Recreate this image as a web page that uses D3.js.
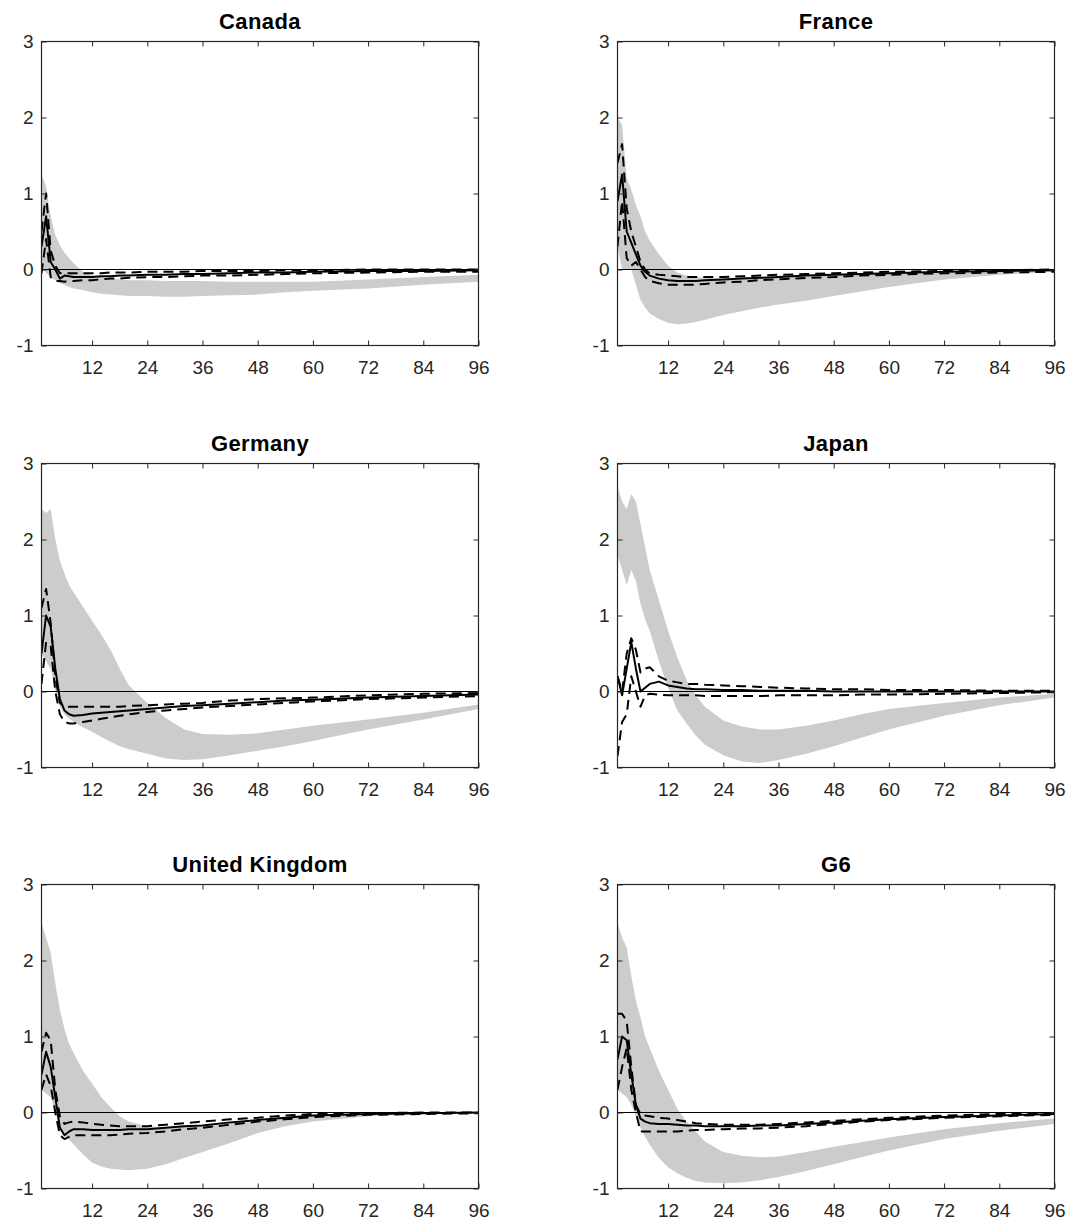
<!DOCTYPE html>
<html>
<head>
<meta charset="utf-8">
<script src="https://cdn.jsdelivr.net/npm/d3@7"></script>
<style>
  html, body { margin: 0; padding: 0; background: #fff; }
  svg { display: block; }
  text { font-family: "Liberation Sans", Arial, Helvetica, sans-serif; }
</style>
</head>
<body>
<svg id="chart" width="1076" height="1221"></svg>
<script>
// ---- data ----
const months = [1,2,3,4,5,6,7,8,10,12,14,16,18,20,24,28,32,36,42,48,54,60,72,84,96];
const xTicks = [12,24,36,48,60,72,84,96];
const yTicks = [-1,0,1,2,3];
const titles = ["Canada","France","Germany","Japan","United Kingdom","G6"];

const canadaBandHi = [1.25,1.1,0.7,0.45,0.32,0.22,0.15,0.08,-0.03,-0.08,-0.1,-0.12,-0.13,-0.14,-0.14,-0.15,-0.15,-0.15,-0.16,-0.16,-0.16,-0.16,-0.13,-0.1,-0.07];
const canadaBandLo = [0.05,-0.05,-0.1,-0.14,-0.18,-0.2,-0.23,-0.25,-0.27,-0.3,-0.32,-0.33,-0.34,-0.35,-0.35,-0.36,-0.36,-0.35,-0.34,-0.33,-0.3,-0.28,-0.25,-0.2,-0.16];
const canadaMid = [0.3,0.7,0.1,0.0,-0.12,-0.08,-0.09,-0.1,-0.1,-0.1,-0.09,-0.09,-0.08,-0.08,-0.07,-0.07,-0.06,-0.06,-0.05,-0.04,-0.04,-0.03,-0.02,-0.02,-0.01];
const canadaHi = [0.5,1.0,0.25,0.05,-0.05,-0.04,-0.05,-0.05,-0.05,-0.05,-0.05,-0.04,-0.04,-0.04,-0.03,-0.03,-0.03,-0.02,-0.02,-0.02,-0.01,-0.01,0.0,0.0,0.0];
const canadaLo = [-0.05,0.4,-0.1,-0.15,-0.15,-0.16,-0.15,-0.15,-0.14,-0.14,-0.13,-0.12,-0.12,-0.11,-0.1,-0.1,-0.09,-0.08,-0.08,-0.07,-0.06,-0.05,-0.04,-0.03,-0.03];

const franceBandHi = [2.0,1.9,1.2,1.05,0.85,0.7,0.5,0.38,0.2,0.05,-0.04,-0.08,-0.1,-0.11,-0.12,-0.12,-0.11,-0.1,-0.09,-0.08,-0.07,-0.05,-0.03,-0.02,-0.01];
const franceBandLo = [0.3,0.0,0.0,0.0,-0.2,-0.4,-0.5,-0.58,-0.65,-0.7,-0.72,-0.71,-0.69,-0.66,-0.6,-0.55,-0.5,-0.46,-0.41,-0.35,-0.29,-0.23,-0.13,-0.07,-0.03];
const franceMid = [0.9,1.25,0.5,0.35,0.2,0.05,-0.03,-0.08,-0.12,-0.14,-0.15,-0.15,-0.15,-0.14,-0.13,-0.12,-0.11,-0.1,-0.08,-0.07,-0.06,-0.05,-0.03,-0.02,-0.01];
const franceHi = [1.4,1.65,0.8,0.5,0.3,0.1,0.0,-0.05,-0.07,-0.08,-0.09,-0.1,-0.1,-0.1,-0.1,-0.09,-0.08,-0.07,-0.06,-0.05,-0.04,-0.03,-0.02,-0.01,0.0];
const franceLo = [0.3,0.9,0.15,0.05,0.1,0.0,-0.1,-0.15,-0.18,-0.2,-0.2,-0.2,-0.2,-0.19,-0.17,-0.16,-0.14,-0.13,-0.11,-0.1,-0.08,-0.07,-0.05,-0.04,-0.03];

const germanyBandHi = [2.4,2.35,2.4,2.0,1.72,1.55,1.4,1.3,1.12,0.93,0.75,0.55,0.3,0.08,-0.15,-0.35,-0.5,-0.56,-0.57,-0.55,-0.5,-0.45,-0.37,-0.28,-0.17];
const germanyBandLo = [0.5,0.4,0.3,0.0,-0.2,-0.3,-0.36,-0.4,-0.47,-0.53,-0.6,-0.66,-0.72,-0.76,-0.82,-0.88,-0.9,-0.89,-0.84,-0.78,-0.72,-0.65,-0.5,-0.37,-0.23];
const germanyMid = [0.5,1.0,0.85,0.3,-0.1,-0.25,-0.3,-0.32,-0.31,-0.29,-0.28,-0.27,-0.26,-0.25,-0.23,-0.21,-0.19,-0.18,-0.16,-0.14,-0.12,-0.11,-0.08,-0.06,-0.04];
const germanyHi = [1.1,1.35,0.9,0.2,-0.15,-0.2,-0.2,-0.2,-0.2,-0.2,-0.2,-0.2,-0.2,-0.19,-0.18,-0.17,-0.16,-0.15,-0.12,-0.1,-0.09,-0.08,-0.05,-0.03,-0.02];
const germanyLo = [0.1,0.65,0.6,0.0,-0.3,-0.4,-0.42,-0.42,-0.4,-0.38,-0.36,-0.34,-0.32,-0.3,-0.27,-0.25,-0.23,-0.21,-0.19,-0.17,-0.15,-0.13,-0.1,-0.08,-0.06];

const japanBandHi = [2.7,2.5,2.4,2.6,2.5,2.2,1.9,1.6,1.2,0.8,0.45,0.15,-0.05,-0.2,-0.38,-0.46,-0.5,-0.5,-0.45,-0.38,-0.3,-0.23,-0.15,-0.08,-0.03];
const japanBandLo = [1.8,1.6,1.4,1.6,1.45,1.15,0.95,0.8,0.4,0.05,-0.25,-0.42,-0.58,-0.7,-0.84,-0.92,-0.94,-0.9,-0.82,-0.72,-0.61,-0.5,-0.32,-0.18,-0.08];
const japanMid = [0.2,-0.05,0.3,0.65,0.3,0.0,0.05,0.1,0.13,0.08,0.06,0.04,0.03,0.03,0.02,0.02,0.01,0.01,0.01,0.0,0.0,0.0,0.0,0.0,0.0];
const japanHi = [0.2,0.0,0.5,0.7,0.55,0.25,0.3,0.32,0.2,0.14,0.12,0.1,0.1,0.09,0.08,0.07,0.06,0.05,0.04,0.03,0.03,0.02,0.02,0.01,0.01];
const japanLo = [-0.85,-0.4,-0.3,0.2,0.0,-0.2,-0.05,-0.03,-0.04,-0.05,-0.05,-0.05,-0.05,-0.06,-0.06,-0.06,-0.06,-0.05,-0.05,-0.05,-0.04,-0.04,-0.03,-0.02,-0.01];

const ukBandHi = [2.5,2.3,2.1,1.7,1.35,1.1,0.9,0.78,0.55,0.38,0.2,0.07,-0.05,-0.12,-0.18,-0.19,-0.19,-0.18,-0.15,-0.12,-0.08,-0.05,-0.02,-0.01,0.0];
const ukBandLo = [0.3,0.25,0.2,0.0,-0.2,-0.3,-0.36,-0.42,-0.55,-0.66,-0.71,-0.74,-0.75,-0.76,-0.74,-0.68,-0.6,-0.52,-0.4,-0.27,-0.18,-0.12,-0.05,-0.02,-0.01];
const ukMid = [0.5,0.8,0.6,0.2,-0.2,-0.3,-0.25,-0.22,-0.22,-0.23,-0.23,-0.23,-0.23,-0.22,-0.22,-0.2,-0.18,-0.17,-0.13,-0.1,-0.07,-0.04,-0.02,-0.01,0.0];
const ukHi = [0.8,1.05,0.95,0.3,-0.05,-0.15,-0.13,-0.12,-0.13,-0.15,-0.16,-0.17,-0.18,-0.18,-0.18,-0.16,-0.14,-0.12,-0.09,-0.07,-0.04,-0.02,-0.01,0.0,0.0];
const ukLo = [0.3,0.5,0.35,0.0,-0.3,-0.35,-0.32,-0.3,-0.3,-0.3,-0.3,-0.3,-0.29,-0.28,-0.27,-0.25,-0.22,-0.2,-0.16,-0.12,-0.09,-0.06,-0.03,-0.02,-0.01];

const g6BandHi = [2.5,2.3,2.17,1.8,1.47,1.25,1.0,0.85,0.55,0.3,0.05,-0.12,-0.25,-0.38,-0.52,-0.57,-0.59,-0.58,-0.52,-0.45,-0.39,-0.33,-0.22,-0.14,-0.08];
const g6BandLo = [0.3,0.25,0.2,0.1,-0.05,-0.2,-0.32,-0.42,-0.6,-0.72,-0.8,-0.86,-0.9,-0.92,-0.93,-0.92,-0.89,-0.85,-0.77,-0.68,-0.59,-0.5,-0.35,-0.24,-0.15];
const g6Mid = [0.7,1.0,0.95,0.5,0.1,-0.08,-0.12,-0.14,-0.15,-0.15,-0.16,-0.17,-0.17,-0.18,-0.18,-0.18,-0.17,-0.17,-0.15,-0.13,-0.11,-0.09,-0.06,-0.04,-0.02];
const g6Hi = [1.3,1.3,1.2,0.6,0.1,-0.02,-0.04,-0.05,-0.07,-0.08,-0.1,-0.12,-0.14,-0.15,-0.16,-0.16,-0.16,-0.15,-0.13,-0.11,-0.09,-0.07,-0.04,-0.02,-0.01];
const g6Lo = [0.3,0.6,0.85,0.3,0.0,-0.25,-0.25,-0.25,-0.25,-0.25,-0.25,-0.24,-0.23,-0.23,-0.22,-0.21,-0.21,-0.2,-0.18,-0.15,-0.12,-0.1,-0.07,-0.05,-0.03];

const panelsData = [
  {bandHi: canadaBandHi, bandLo: canadaBandLo, mid: canadaMid, hi: canadaHi, lo: canadaLo},
  {bandHi: franceBandHi, bandLo: franceBandLo, mid: franceMid, hi: franceHi, lo: franceLo},
  {bandHi: germanyBandHi, bandLo: germanyBandLo, mid: germanyMid, hi: germanyHi, lo: germanyLo},
  {bandHi: japanBandHi, bandLo: japanBandLo, mid: japanMid, hi: japanHi, lo: japanLo},
  {bandHi: ukBandHi, bandLo: ukBandLo, mid: ukMid, hi: ukHi, lo: ukLo},
  {bandHi: g6BandHi, bandLo: g6BandLo, mid: g6Mid, hi: g6Hi, lo: g6Lo}
];

// ---- layout ----
const colLeft = [41.5, 617.5];
const rowTop = [41.5, 463.5, 884.5];
const pw = 437, ph = 304;
const axisColor = "#262626";
const fmt = d => String(d).replace("\u2212", "-");

const svg = d3.select("#chart");

panelsData.forEach((pd, i) => {
  const col = i % 2, row = Math.floor(i / 2);
  const g = svg.append("g").attr("transform", `translate(${colLeft[col]},${rowTop[row]})`);
  const x = d3.scaleLinear().domain([1, 96]).range([0, pw]);
  const y = d3.scaleLinear().domain([-1, 3]).range([ph, 0]);

  const clipId = "clip" + i;
  g.append("clipPath").attr("id", clipId).append("rect").attr("width", pw).attr("height", ph);
  const plot = g.append("g").attr("clip-path", `url(#${clipId})`);

  const band = months.map((m, k) => ({m, lo: pd.bandLo[k], hi: pd.bandHi[k]}));
  plot.append("path")
    .datum(band)
    .attr("fill", "#cccccc")
    .attr("d", d3.area().x(d => x(d.m)).y0(d => y(d.lo)).y1(d => y(d.hi)));

  // zero line
  plot.append("line")
    .attr("x1", x(1)).attr("x2", x(96))
    .attr("y1", y(0)).attr("y2", y(0))
    .attr("stroke", "#000").attr("stroke-width", 1.2);

  const line = d3.line().x(d => x(d[0])).y(d => y(d[1]));
  const series = [
    {v: pd.mid, dash: null},
    {v: pd.hi, dash: "10,6"},
    {v: pd.lo, dash: "10,6"}
  ];
  series.forEach(s => {
    plot.append("path")
      .datum(months.map((m, k) => [m, s.v[k]]))
      .attr("fill", "none")
      .attr("stroke", "#000")
      .attr("stroke-width", 2)
      .attr("stroke-linejoin", "round")
      .attr("stroke-dasharray", s.dash)
      .attr("d", line);
  });

  // axes (ticks inside, box)
  const styleAxis = sel => {
    sel.select(".domain").remove();
    sel.selectAll(".tick line").attr("stroke", axisColor).attr("stroke-width", 1);
    sel.selectAll(".tick text").attr("fill", axisColor).style("font-size", "19px");
  };
  g.append("g").attr("transform", `translate(0,${ph})`)
    .call(d3.axisBottom(x).tickValues(xTicks).tickSizeInner(-5).tickSizeOuter(0).tickPadding(15).tickFormat(fmt))
    .call(styleAxis);
  g.append("g")
    .call(d3.axisTop(x).tickValues(xTicks).tickSizeInner(-5).tickSizeOuter(0).tickFormat(""))
    .call(styleAxis);
  g.append("g")
    .call(d3.axisLeft(y).tickValues(yTicks).tickSizeInner(-5).tickSizeOuter(0).tickPadding(8).tickFormat(fmt))
    .call(styleAxis);
  g.append("g").attr("transform", `translate(${pw},0)`)
    .call(d3.axisRight(y).tickValues(yTicks).tickSizeInner(-5).tickSizeOuter(0).tickFormat(""))
    .call(styleAxis);

  g.append("rect").attr("width", pw).attr("height", ph)
    .attr("fill", "none").attr("stroke", axisColor).attr("stroke-width", 1.2);

  g.append("text")
    .attr("x", pw / 2).attr("y", -13)
    .attr("text-anchor", "middle")
    .style("font-size", "22px").style("font-weight", "bold")
    .style("letter-spacing", "0.4px").attr("fill", "#000")
    .text(titles[i]);
});
</script>
</body>
</html>
